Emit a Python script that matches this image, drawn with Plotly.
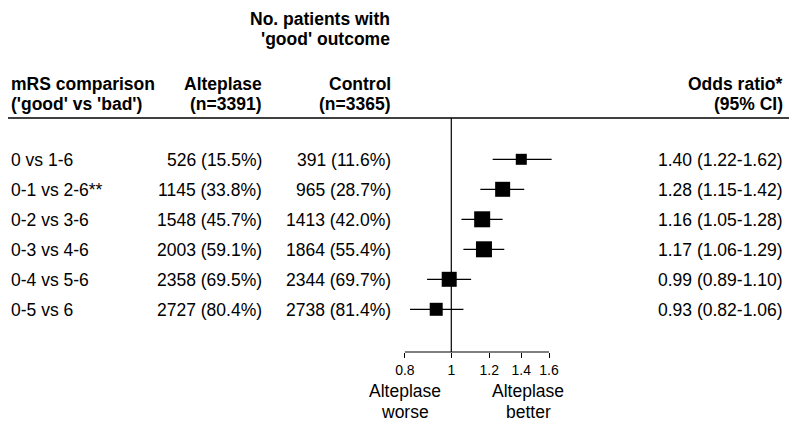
import plotly.graph_objects as go

# ---------------- data ----------------
comparisons = ["0 vs 1-6", "0-1 vs 2-6**", "0-2 vs 3-6", "0-3 vs 4-6", "0-4 vs 5-6", "0-5 vs 6"]
alteplase_n = [526, 1145, 1548, 2003, 2358, 2727]
alteplase_pct = [15.5, 33.8, 45.7, 59.1, 69.5, 80.4]
control_n = [391, 965, 1413, 1864, 2344, 2738]
control_pct = [11.6, 28.7, 42.0, 55.4, 69.7, 81.4]
odds_ratio = [1.40, 1.28, 1.16, 1.17, 0.99, 0.93]
ci_low = [1.22, 1.15, 1.05, 1.06, 0.89, 0.82]
ci_high = [1.62, 1.42, 1.28, 1.29, 1.10, 1.06]
tick_values = [0.8, 1, 1.2, 1.4, 1.6]
tick_labels = ["0.8", "1", "1.2", "1.4", "1.6"]

# ---------------- style ----------------
box_sizes = [11, 15, 16, 16, 15, 13]
FONT = "Liberation Sans, Arial, sans-serif"
FS = 17.5
VW, VH = 800, 428      # browser window
OFF = 8                # default body margin of the page
W, H = VW - OFF, VH - OFF
AXIS_PX = 352          # window pixel row of the x axis
ROW0_PX = 159.3        # window pixel row of first row
ROW_STEP = 30.0

def px(xp):
    return (xp - OFF) / W

def py(yp):
    return 1 - (yp - OFF) / H

rows = list(range(len(comparisons)))
row_y = [-i for i in rows]

fig = go.Figure()

fig.add_trace(go.Scatter(
    x=odds_ratio, y=row_y, mode="markers",
    marker=dict(symbol="square", size=box_sizes, color="black", opacity=1, line=dict(width=0)),
    error_x=dict(type="data", symmetric=False,
                 array=[h - o for h, o in zip(ci_high, odds_ratio)],
                 arrayminus=[o - l for o, l in zip(odds_ratio, ci_low)],
                 width=0, thickness=1.2, color="black"),
    showlegend=False, hoverinfo="skip",
))

annotations = []

def txt(x, y, s, anchor, bold=False, size=FS, yref="paper", xref="paper"):
    annotations.append(dict(
        x=x, y=y, xref=xref, yref=yref, text=f"<b>{s}</b>" if bold else s,
        showarrow=False, xanchor=anchor, yanchor="middle",
        font=dict(family=FONT, size=size, color="black"),
    ))

# headers
txt(px(392), py(19), "No. patients with", "right", bold=True)
txt(px(392), py(39), "'good' outcome", "right", bold=True)
txt(px(9), py(84), "mRS comparison", "left", bold=True)
txt(px(9), py(104), "('good' vs 'bad')", "left", bold=True)
txt(px(264), py(84), "Alteplase", "right", bold=True)
txt(px(264), py(104), "(n=3391)", "right", bold=True)
txt(px(393), py(84), "Control", "right", bold=True)
txt(px(393), py(104), "(n=3365)", "right", bold=True)
txt(px(785), py(84), "Odds ratio*", "right", bold=True)
txt(px(785), py(104), "(95% CI)", "right", bold=True)

# rows (shifted 1px down to match text baseline)
for i in rows:
    yy = row_y[i] - 1.0 / ROW_STEP
    txt(px(9), yy, comparisons[i], "left", yref="y")
    txt(px(264), yy, f"{alteplase_n[i]} ({alteplase_pct[i]:.1f}%)", "right", yref="y")
    txt(px(393), yy, f"{control_n[i]} ({control_pct[i]:.1f}%)", "right", yref="y")
    txt(px(785), yy, f"{odds_ratio[i]:.2f} ({ci_low[i]:.2f}-{ci_high[i]:.2f})", "right", yref="y")

# axis captions
txt(px(405), py(391), "Alteplase", "center")
txt(px(405), py(412), "worse", "center")
txt(px(528), py(391), "Alteplase", "center")
txt(px(528), py(412), "better", "center")

shapes = [
    # header rule
    dict(type="line", xref="paper", yref="paper", x0=px(7), x1=px(789), y0=py(118), y1=py(118),
         line=dict(color="black", width=1.5)),
    # line of no effect
    dict(type="line", xref="x", yref="paper", x0=1, x1=1, y0=py(AXIS_PX), y1=py(118),
         line=dict(color="black", width=1.2)),
    # axis line
    dict(type="line", xref="x", yref="paper", x0=tick_values[0], x1=tick_values[-1],
         y0=py(AXIS_PX), y1=py(AXIS_PX), line=dict(color="black", width=1.2)),
]

# log axis: 1 at x=451.3 px (window), 208 px per natural-log unit
PX_PER_DEC = 208 * 2.302585
x0 = -(451.3 - OFF) / PX_PER_DEC
x1 = x0 + W / PX_PER_DEC

y_top = (ROW0_PX - OFF) / ROW_STEP
y_bot = -(AXIS_PX - ROW0_PX) / ROW_STEP

fig.update_layout(
    width=W, height=H,
    margin=dict(l=0, r=0, t=0, b=0),
    paper_bgcolor="white", plot_bgcolor="white",
    annotations=annotations, shapes=shapes,
    xaxis=dict(type="log", range=[x0, x1], tickvals=tick_values, ticktext=tick_labels,
               ticks="outside", ticklen=5, tickwidth=1.2, tickcolor="black",
               showline=False, showgrid=False, zeroline=False,
               tickfont=dict(family=FONT, size=14, color="black")),
    yaxis=dict(range=[y_bot, y_top], domain=[1 - (AXIS_PX - OFF) / H, 1], visible=False,
               showgrid=False, zeroline=False),
)

fig.write_html("out.html")
